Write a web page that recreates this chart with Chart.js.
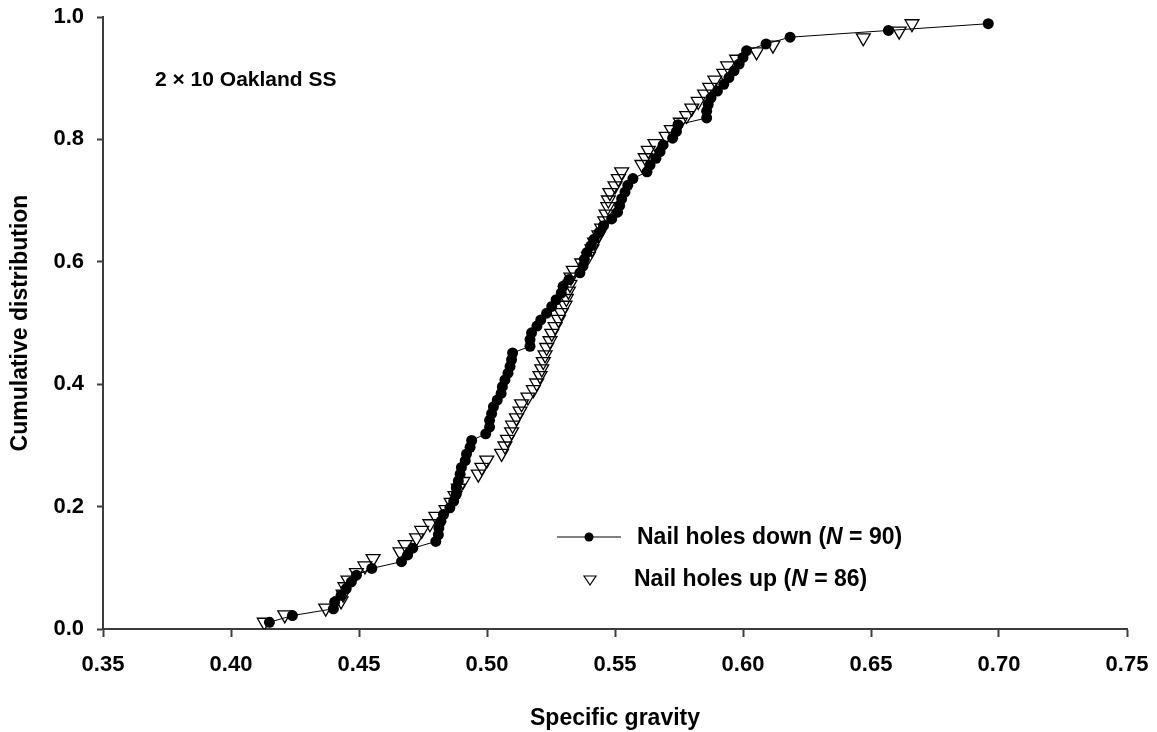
<!DOCTYPE html>
<html lang="en">
<head>
  <meta charset="UTF-8" />
  <title>Cumulative distribution of specific gravity</title>
  <script src="https://cdn.jsdelivr.net/npm/chart.js"></script>
  <style>
    body { margin: 0; background: #fff; }
    #wrap { width: 1157px; height: 732px; }
  </style>
</head>
<body>
  <div id="wrap"><canvas id="cdfChart" width="1157" height="732"></canvas></div>

  <script>
    // Nail holes down (N = 90): specific gravity and cumulative fraction
    const downX = [0.415, 0.424, 0.440, 0.4405, 0.443, 0.445, 0.447, 0.449, 0.455, 0.4666,
      0.469, 0.471, 0.480, 0.481, 0.4812, 0.482, 0.483, 0.4855, 0.487, 0.488,
      0.488, 0.4888, 0.4895, 0.490, 0.4915, 0.492, 0.4934, 0.494, 0.4995, 0.501,
      0.501, 0.5018, 0.5025, 0.504, 0.5055, 0.506, 0.507, 0.5082, 0.509, 0.5096,
      0.510, 0.5168, 0.5168, 0.5174, 0.5195, 0.521, 0.5233, 0.5253, 0.527, 0.529,
      0.5297, 0.532, 0.5363, 0.5375, 0.538, 0.539, 0.5405, 0.5418, 0.5438, 0.5455,
      0.5487, 0.551, 0.5518, 0.5526, 0.5539, 0.555, 0.557, 0.5625, 0.5637, 0.566,
      0.5676, 0.5688, 0.5725, 0.574, 0.5746, 0.5858, 0.5858, 0.5864, 0.5875, 0.590,
      0.5925, 0.5945, 0.5965, 0.5985, 0.600, 0.6014, 0.609, 0.6184, 0.6568, 0.6958];
    const downY = [0.011, 0.022, 0.033, 0.044, 0.055, 0.066, 0.077, 0.088, 0.099, 0.110,
      0.121, 0.132, 0.143, 0.154, 0.165, 0.176, 0.187, 0.198, 0.209, 0.220,
      0.231, 0.242, 0.253, 0.264, 0.275, 0.286, 0.297, 0.308, 0.319, 0.330,
      0.341, 0.352, 0.363, 0.374, 0.385, 0.396, 0.407, 0.418, 0.429, 0.440,
      0.451, 0.462, 0.473, 0.484, 0.495, 0.505, 0.516, 0.527, 0.538, 0.549,
      0.560, 0.571, 0.582, 0.593, 0.604, 0.615, 0.626, 0.637, 0.648, 0.659,
      0.670, 0.681, 0.692, 0.703, 0.714, 0.725, 0.736, 0.747, 0.758, 0.769,
      0.780, 0.791, 0.802, 0.813, 0.824, 0.835, 0.846, 0.857, 0.868, 0.879,
      0.890, 0.901, 0.912, 0.923, 0.934, 0.945, 0.956, 0.967, 0.978, 0.989];

    // Nail holes up (N = 86)
    const upX = [0.413, 0.421, 0.437, 0.443, 0.4438, 0.4445, 0.4457, 0.449, 0.4523, 0.4555,
      0.466, 0.468, 0.4725, 0.4745, 0.4777, 0.480, 0.484, 0.486, 0.4875, 0.4888,
      0.4906, 0.4966, 0.498, 0.4999, 0.5057, 0.507, 0.508, 0.5096, 0.510, 0.5115,
      0.5129, 0.5135, 0.516, 0.5181, 0.5194, 0.5207, 0.5214, 0.522, 0.5227, 0.5233,
      0.5246, 0.5253, 0.5266, 0.5279, 0.529, 0.5305, 0.531, 0.5318, 0.5324, 0.5328,
      0.5337, 0.537, 0.5396, 0.541, 0.542, 0.5437, 0.5448, 0.546, 0.5465, 0.5472,
      0.5474, 0.548, 0.550, 0.5513, 0.5526, 0.5605, 0.5618, 0.563, 0.5656, 0.570,
      0.572, 0.5755, 0.578, 0.580, 0.5825, 0.585, 0.587, 0.589, 0.5925, 0.594,
      0.5975, 0.6053, 0.6117, 0.647, 0.661, 0.666];
    const upY = [0.011, 0.023, 0.034, 0.046, 0.057, 0.069, 0.080, 0.092, 0.103, 0.115,
      0.126, 0.138, 0.149, 0.161, 0.172, 0.184, 0.195, 0.207, 0.218, 0.230,
      0.241, 0.253, 0.264, 0.276, 0.287, 0.299, 0.310, 0.322, 0.333, 0.345,
      0.356, 0.368, 0.379, 0.391, 0.402, 0.414, 0.425, 0.437, 0.448, 0.460,
      0.471, 0.483, 0.494, 0.506, 0.517, 0.529, 0.540, 0.552, 0.563, 0.575,
      0.586, 0.598, 0.609, 0.621, 0.632, 0.644, 0.655, 0.667, 0.678, 0.690,
      0.701, 0.713, 0.724, 0.736, 0.747, 0.759, 0.770, 0.782, 0.793, 0.805,
      0.816, 0.828, 0.839, 0.851, 0.862, 0.874, 0.885, 0.897, 0.908, 0.920,
      0.931, 0.943, 0.954, 0.966, 0.977, 0.989];

    const xTicks = [0.35, 0.40, 0.45, 0.50, 0.55, 0.60, 0.65, 0.70, 0.75];
    const yTicks = [0.0, 0.2, 0.4, 0.6, 0.8, 1.0];
    const panelLabel = '2 \u00d7 10 Oakland SS';
    const legendItems = [
      { pre: 'Nail holes down (', n: '90' },
      { pre: 'Nail holes up (', n: '86' }
    ];

    const FONT = '"Liberation Sans", Arial, Helvetica, sans-serif';
    const axisColor = '#3c3c3c';

    const downPts = downX.map((x, i) => ({ x: x, y: downY[i] }));
    const upPts = upX.map((x, i) => ({ x: x, y: upY[i] }));

    // legend + panel label (needs italic N, so drawn by hand)
    const extras = {
      id: 'extras',
      afterDraw(chart) {
        const ctx = chart.ctx;
        ctx.save();
        ctx.fillStyle = '#000';
        ctx.textBaseline = 'middle';
        ctx.font = 'bold 21px ' + FONT;
        ctx.fillText(panelLabel, 155, 80);

        // down entry
        ctx.strokeStyle = '#000';
        ctx.lineWidth = 1;
        ctx.beginPath();
        ctx.moveTo(557, 537);
        ctx.lineTo(621, 537);
        ctx.stroke();
        ctx.beginPath();
        ctx.arc(589, 537, 4.5, 0, Math.PI * 2);
        ctx.fill();
        // up entry: small open down-triangle
        ctx.lineWidth = 1.2;
        ctx.beginPath();
        ctx.moveTo(584, 576);
        ctx.lineTo(596, 576);
        ctx.lineTo(590, 585);
        ctx.closePath();
        ctx.stroke();

        const rows = [{ x: 637, y: 538 }, { x: 634, y: 580 }];
        legendItems.forEach((it, k) => {
          let x = rows[k].x;
          const y = rows[k].y;
          ctx.font = 'bold 23px ' + FONT;
          ctx.fillText(it.pre, x, y);
          x += ctx.measureText(it.pre).width;
          ctx.font = 'italic bold 23px ' + FONT;
          ctx.fillText('N', x, y);
          x += ctx.measureText('N').width;
          ctx.font = 'bold 23px ' + FONT;
          ctx.fillText(' = ' + it.n + ')', x, y);
        });
        ctx.restore();
      }
    };

    new Chart(document.getElementById('cdfChart'), {
      type: 'scatter',
      data: {
        datasets: [
          {
            label: 'Nail holes up',
            data: upPts,
            pointStyle: 'triangle',
            rotation: 180,
            pointRadius: 8,
            pointBorderWidth: 1.3,
            borderColor: '#000',
            backgroundColor: 'rgba(255,255,255,0)',
            showLine: false,
            order: 2
          },
          {
            label: 'Nail holes down',
            data: downPts,
            pointStyle: 'circle',
            pointRadius: 5.5,
            pointBorderWidth: 0,
            borderColor: '#000',
            backgroundColor: '#000',
            borderWidth: 1,
            showLine: true,
            order: 1
          }
        ]
      },
      options: {
        responsive: false,
        animation: false,
        layout: { padding: { left: 0, right: 30, top: 17, bottom: 0 } },
        plugins: {
          legend: { display: false },
          tooltip: { enabled: false }
        },
        scales: {
          x: {
            type: 'linear',
            min: 0.35,
            max: 0.75,
            afterBuildTicks(scale) { scale.ticks = xTicks.map(v => ({ value: v })); },
            afterFit(scale) {
              scale.height = 103;
              scale.paddingLeft = 0;
              scale.paddingRight = 0;
            },
            border: { color: axisColor, width: 2 },
            grid: { drawOnChartArea: false, drawTicks: true, tickLength: 8, tickWidth: 2, tickColor: axisColor },
            ticks: {
              color: '#000',
              padding: 15,
              font: { family: FONT, size: 22, weight: 'bold' },
              callback: v => v.toFixed(2)
            },
            title: {
              display: true,
              text: 'Specific gravity',
              color: '#000',
              font: { family: FONT, size: 23, weight: 'bold' },
              padding: { top: 17, bottom: 0 }
            }
          },
          y: {
            type: 'linear',
            min: 0,
            max: 1,
            afterBuildTicks(scale) { scale.ticks = yTicks.map(v => ({ value: v })); },
            afterFit(scale) {
              scale.width = 103;
              scale.paddingTop = 0;
              scale.paddingBottom = 0;
            },
            border: { color: axisColor, width: 2 },
            grid: { drawOnChartArea: false, drawTicks: true, tickLength: 6, tickWidth: 2, tickColor: axisColor },
            ticks: {
              color: '#000',
              padding: 13,
              font: { family: FONT, size: 22, weight: 'bold' },
              callback: v => v.toFixed(1)
            },
            title: {
              display: true,
              text: 'Cumulative distribution',
              color: '#000',
              font: { family: FONT, size: 23, weight: 'bold' },
              padding: { top: 7, bottom: 0 }
            }
          }
        }
      },
      plugins: [extras]
    });
  </script>
</body>
</html>
